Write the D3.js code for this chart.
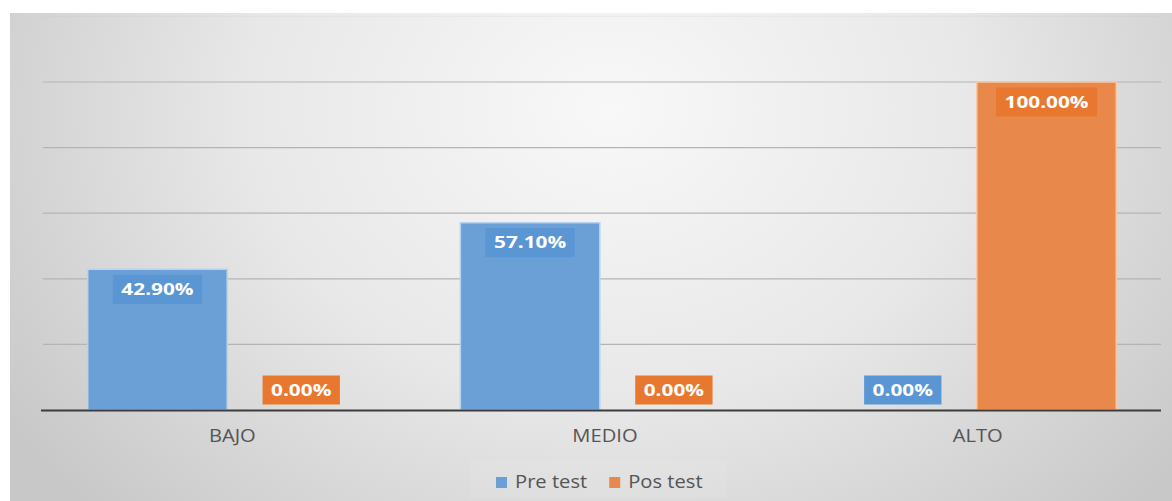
<!DOCTYPE html>
<html>
<head>
<meta charset="utf-8">
<script src="https://cdn.jsdelivr.net/npm/d3@7"></script>
<style>
    body { margin: 0; background: #fff; }
    #chart-container { width: 1172px; height: 501px; }
</style>
</head>
<body>
<div id="chart-container"></div>
<script>
// chart data
var categories = ["BAJO", "MEDIO", "ALTO"];
var seriesNames = ["Pre test", "Pos test"];
var preTest = [0.429, 0.571, 0.0];
var posTest = [0.0, 0.0, 1.0];
var yTicks = [0, 0.2, 0.4, 0.6, 0.8, 1.0, 1.2];

var seriesValues = [preTest, posTest];
var barColors = ["#6aa0d6", "#e8894b"];
var boxColors = ["#5a95d4", "#e8782f"];
var haloColors = ["#b9d3ee", "#f6c9a8"];

var width = 1172, height = 501;
var svg = d3.select("#chart-container").append("svg")
    .attr("width", width)
    .attr("height", height);

// background of chart area
var defs = svg.append("defs");
var grad = defs.append("radialGradient")
    .attr("id", "bg")
    .attr("gradientUnits", "userSpaceOnUse")
    .attr("cx", 610).attr("cy", 110).attr("r", 720)
    .attr("gradientTransform", "translate(610,110) scale(1,0.8) translate(-610,-110)");
grad.append("stop").attr("offset", "0").attr("stop-color", "#f8f8f8");
grad.append("stop").attr("offset", "0.5").attr("stop-color", "#e8e8e8");
grad.append("stop").attr("offset", "1").attr("stop-color", "#c8c8c8");

svg.append("rect")
    .attr("x", 10).attr("y", 13)
    .attr("width", width - 10).attr("height", height - 13)
    .attr("fill", "url(#bg)");

var plot = { left: 43, right: 1161, top: 16.4, bottom: 410 };

var y = d3.scaleLinear()
    .domain([0, 1.2])
    .range([plot.bottom, plot.top]);

var x0 = d3.scaleBand()
    .domain(categories)
    .range([plot.left, plot.right])
    .paddingInner(0.24)
    .paddingOuter(0.12);

var x1 = d3.scaleBand()
    .domain(seriesNames)
    .range([0, x0.bandwidth()])
    .paddingInner(0.03);

// gridlines
svg.append("g")
    .attr("class", "grid")
    .selectAll("line")
    .data(yTicks.filter(function (d) { return d > 0; }))
    .enter().append("line")
    .attr("x1", plot.left).attr("x2", plot.right)
    .attr("y1", function (d) { return y(d); })
    .attr("y2", function (d) { return y(d); })
    .attr("stroke", "#b4b4b4")
    .attr("stroke-opacity", function (d) { return d > 1.1 ? 0.12 : 1; })
    .attr("stroke-width", 1.2);

// bars
var rows = categories.map(function (c, i) {
    return seriesNames.map(function (s, j) {
        return { cat: c, series: s, idx: j, value: seriesValues[j][i] };
    });
});

var groups = svg.append("g")
    .attr("class", "bars")
    .selectAll("g")
    .data(rows)
    .enter().append("g")
    .attr("transform", function (d) { return "translate(" + x0(d[0].cat) + ",0)"; });

groups.selectAll("rect")
    .data(function (d) { return d.filter(function (e) { return e.value > 0; }); })
    .enter().append("rect")
    .attr("x", function (d) { return x1(d.series); })
    .attr("y", function (d) { return y(d.value); })
    .attr("width", x1.bandwidth())
    .attr("height", function (d) { return y(0) - y(d.value); })
    .attr("fill", function (d) { return barColors[d.idx]; })
    .attr("stroke", function (d) { return haloColors[d.idx]; })
    .attr("stroke-width", 1.5);

// axis baseline
svg.append("line")
    .attr("x1", plot.left - 2).attr("x2", plot.right)
    .attr("y1", y(0) + 0.5).attr("y2", y(0) + 0.5)
    .attr("stroke", "#3c3c3c")
    .attr("stroke-width", 2.2);

// data labels with boxes
var fmt = d3.format(".2%");
var labels = groups.selectAll("g.label")
    .data(function (d) { return d; })
    .enter().append("g")
    .attr("class", "label")
    .attr("transform", function (d) {
        var cx = x1(d.series) + x1.bandwidth() / 2;
        var cy = d.value > 0 ? y(d.value) + 20 : y(0) - 20;
        return "translate(" + cx + "," + cy + ")";
    });

labels.append("rect")
    .attr("fill", function (d) { return boxColors[d.idx]; });

labels.append("text")
    .text(function (d) { return fmt(d.value); })
    .attr("text-anchor", "middle")
    .attr("dy", "0.36em")
    .attr("transform", "scale(1.3,1)")
    .style("font-family", "'Open Sans', sans-serif")
    .style("font-weight", "bold")
    .style("font-size", "16px")
    .style("fill", "#ffffff");

labels.each(function () {
    var g = d3.select(this);
    var w = g.select("text").node().getComputedTextLength() * 1.3;
    g.select("rect")
        .attr("x", -w / 2 - 8.5)
        .attr("y", -14.5)
        .attr("width", w + 17)
        .attr("height", 29);
});

// category labels
svg.append("g")
    .attr("class", "xlabels")
    .selectAll("text")
    .data(categories)
    .enter().append("text")
    .text(function (d) { return d; })
    .attr("text-anchor", "middle")
    .attr("transform", function (d) {
        return "translate(" + (x0(d) + x0.bandwidth() / 2 + 3) + ",442) scale(1.12,1)";
    })
    .style("font-family", "'Open Sans', sans-serif")
    .style("font-size", "18px")
    .style("fill", "#555555");

// legend
var legend = svg.append("g").attr("class", "legend");
legend.append("rect")
    .attr("x", 470).attr("y", 461)
    .attr("width", 257).attr("height", 37)
    .attr("fill", "#ffffff")
    .attr("fill-opacity", 0.08);

var lx = 496;
seriesNames.forEach(function (name, j) {
    legend.append("rect")
        .attr("x", lx).attr("y", 477)
        .attr("width", 11).attr("height", 11)
        .attr("fill", barColors[j]);
    var t = legend.append("text")
        .text(name)
        .attr("transform", "translate(" + (lx + 19) + ",488) scale(1.12,1)")
        .style("font-family", "'Open Sans', sans-serif")
        .style("font-size", "18px")
        .style("fill", "#555555");
    lx += 19 + t.node().getComputedTextLength() * 1.12 + 22;
});
</script>
</body>
</html>
